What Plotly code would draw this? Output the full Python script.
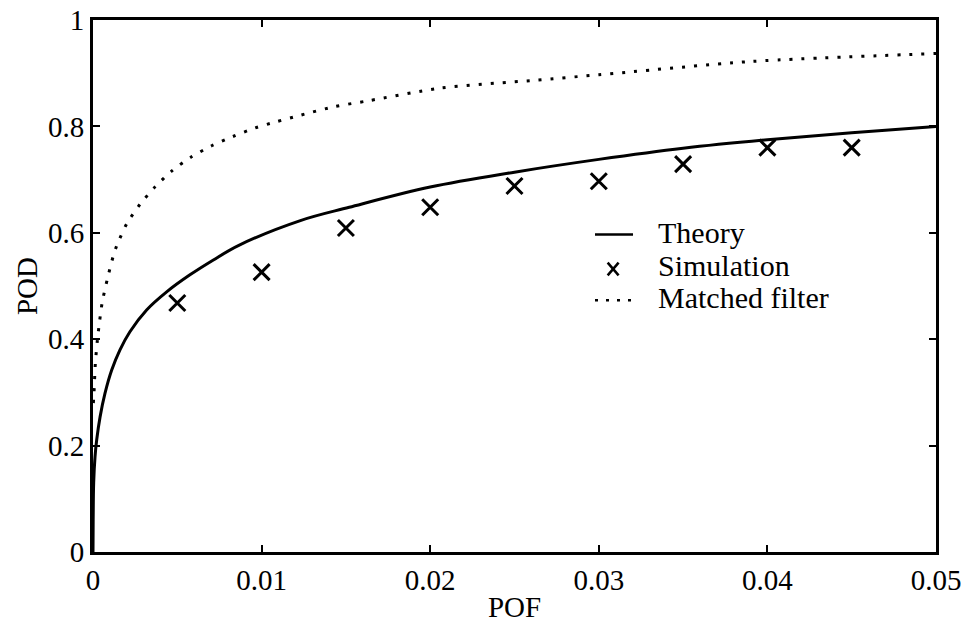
import plotly.graph_objects as go

# Theory curve
theory_pof = [0, 0.00001, 0.00004, 0.00012, 0.00022, 0.00042, 0.00071, 0.00111, 0.0016,
              0.00219, 0.00318, 0.00437, 0.00575, 0.00714, 0.00862, 0.0123, 0.0152,
              0.020, 0.025, 0.030, 0.035, 0.040, 0.045, 0.050]
theory_pod = [0, 0.06, 0.13, 0.179, 0.211, 0.254, 0.298, 0.342, 0.380,
              0.414, 0.455, 0.489, 0.521, 0.549, 0.576, 0.623, 0.648,
              0.686, 0.714, 0.738, 0.759, 0.775, 0.788, 0.800]

# Simulation points
sim_pof = [0.005, 0.010, 0.015, 0.020, 0.025, 0.030, 0.035, 0.040, 0.045]
sim_pod = [0.468, 0.526, 0.609, 0.648, 0.688, 0.697, 0.729, 0.760, 0.760]

# Matched filter curve
mf_pof = [0.00002, 0.00006, 0.00014, 0.00026, 0.0004, 0.00055, 0.00085, 0.00119, 0.0014,
          0.002, 0.0028, 0.0037, 0.0047, 0.0058, 0.007, 0.0083, 0.0096, 0.0109, 0.0123,
          0.0143, 0.0163, 0.0206, 0.0263, 0.030, 0.039, 0.050]
mf_pod = [0.28, 0.30, 0.355, 0.398, 0.436, 0.47, 0.513, 0.555, 0.575,
          0.617, 0.654, 0.687, 0.717, 0.742, 0.763, 0.781, 0.797, 0.809, 0.821,
          0.837, 0.848, 0.872, 0.887, 0.897, 0.922, 0.937]

x_ticks = [0, 0.01, 0.02, 0.03, 0.04, 0.05]
y_ticks = [0, 0.2, 0.4, 0.6, 0.8, 1]

legend_labels = ["Theory", "Simulation", "Matched filter"]

FONT = "Liberation Serif, Times New Roman, serif"
TICK_SIZE = 29

fig = go.Figure()
fig.add_trace(go.Scatter(x=theory_pof, y=theory_pod, mode="lines", name=legend_labels[0],
                         line=dict(color="black", width=3, shape="spline", smoothing=1.0)))
fig.add_trace(go.Scatter(x=sim_pof, y=sim_pod, mode="markers", name=legend_labels[1],
                         marker=dict(symbol="x-thin", size=16, color="black",
                                     line=dict(color="black", width=3))))
fig.add_trace(go.Scatter(x=mf_pof, y=mf_pod, mode="lines", name=legend_labels[2],
                         line=dict(color="black", width=3, dash="3px,9px",
                                   shape="spline", smoothing=0.7)))

axis_common = dict(showline=True, linecolor="black", linewidth=3, mirror="ticks",
                   ticks="inside", ticklen=7, tickwidth=2, tickcolor="black",
                   showgrid=False, zeroline=False, automargin=False,
                   tickfont=dict(family=FONT, size=TICK_SIZE, color="black"))

fig.update_xaxes(range=[0, 0.05], tickvals=x_ticks,
                 title=dict(text="POF", font=dict(family=FONT, size=TICK_SIZE, color="black"),
                            standoff=2),
                 **axis_common)
fig.update_yaxes(range=[0, 1], tickvals=y_ticks,
                 title=dict(text="POD", font=dict(family=FONT, size=TICK_SIZE, color="black"),
                            standoff=2),
                 **axis_common)

# Legend drawn in the plot area (compact, like the original)
leg_x_text = 0.668
leg_rows = [0.600, 0.538, 0.478]
annotations = []
for lbl, yy in zip(legend_labels, leg_rows):
    annotations.append(dict(xref="paper", yref="paper", x=leg_x_text, y=yy, text=lbl,
                            showarrow=False, xanchor="left", yanchor="middle",
                            font=dict(family=FONT, size=30, color="black")))
shapes = [
    dict(type="line", xref="paper", yref="paper", x0=0.5955, x1=0.6406,
         y0=leg_rows[0] - 0.003, y1=leg_rows[0] - 0.003, line=dict(color="black", width=2.5)),
    dict(type="line", xref="paper", yref="paper", x0=0.6105, x1=0.6235,
         y0=leg_rows[1] - 0.018, y1=leg_rows[1] + 0.006, line=dict(color="black", width=2.5)),
    dict(type="line", xref="paper", yref="paper", x0=0.6105, x1=0.6235,
         y0=leg_rows[1] + 0.006, y1=leg_rows[1] - 0.018, line=dict(color="black", width=2.5)),
    dict(type="line", xref="paper", yref="paper", x0=0.5955, x1=0.6406,
         y0=leg_rows[2] - 0.005, y1=leg_rows[2] - 0.005,
         line=dict(color="black", width=2.5, dash="3px,8px")),
]

fig.update_layout(
    width=969, height=628,
    margin=dict(l=93, r=33, t=20, b=76),
    plot_bgcolor="white", paper_bgcolor="white",
    font=dict(family=FONT, color="black"),
    showlegend=False,
    annotations=annotations,
    shapes=shapes,
)

fig.write_html("out.html", config={"displayModeBar": False},
               post_script="document.body.style.margin='0px';document.body.style.overflow='hidden';")
